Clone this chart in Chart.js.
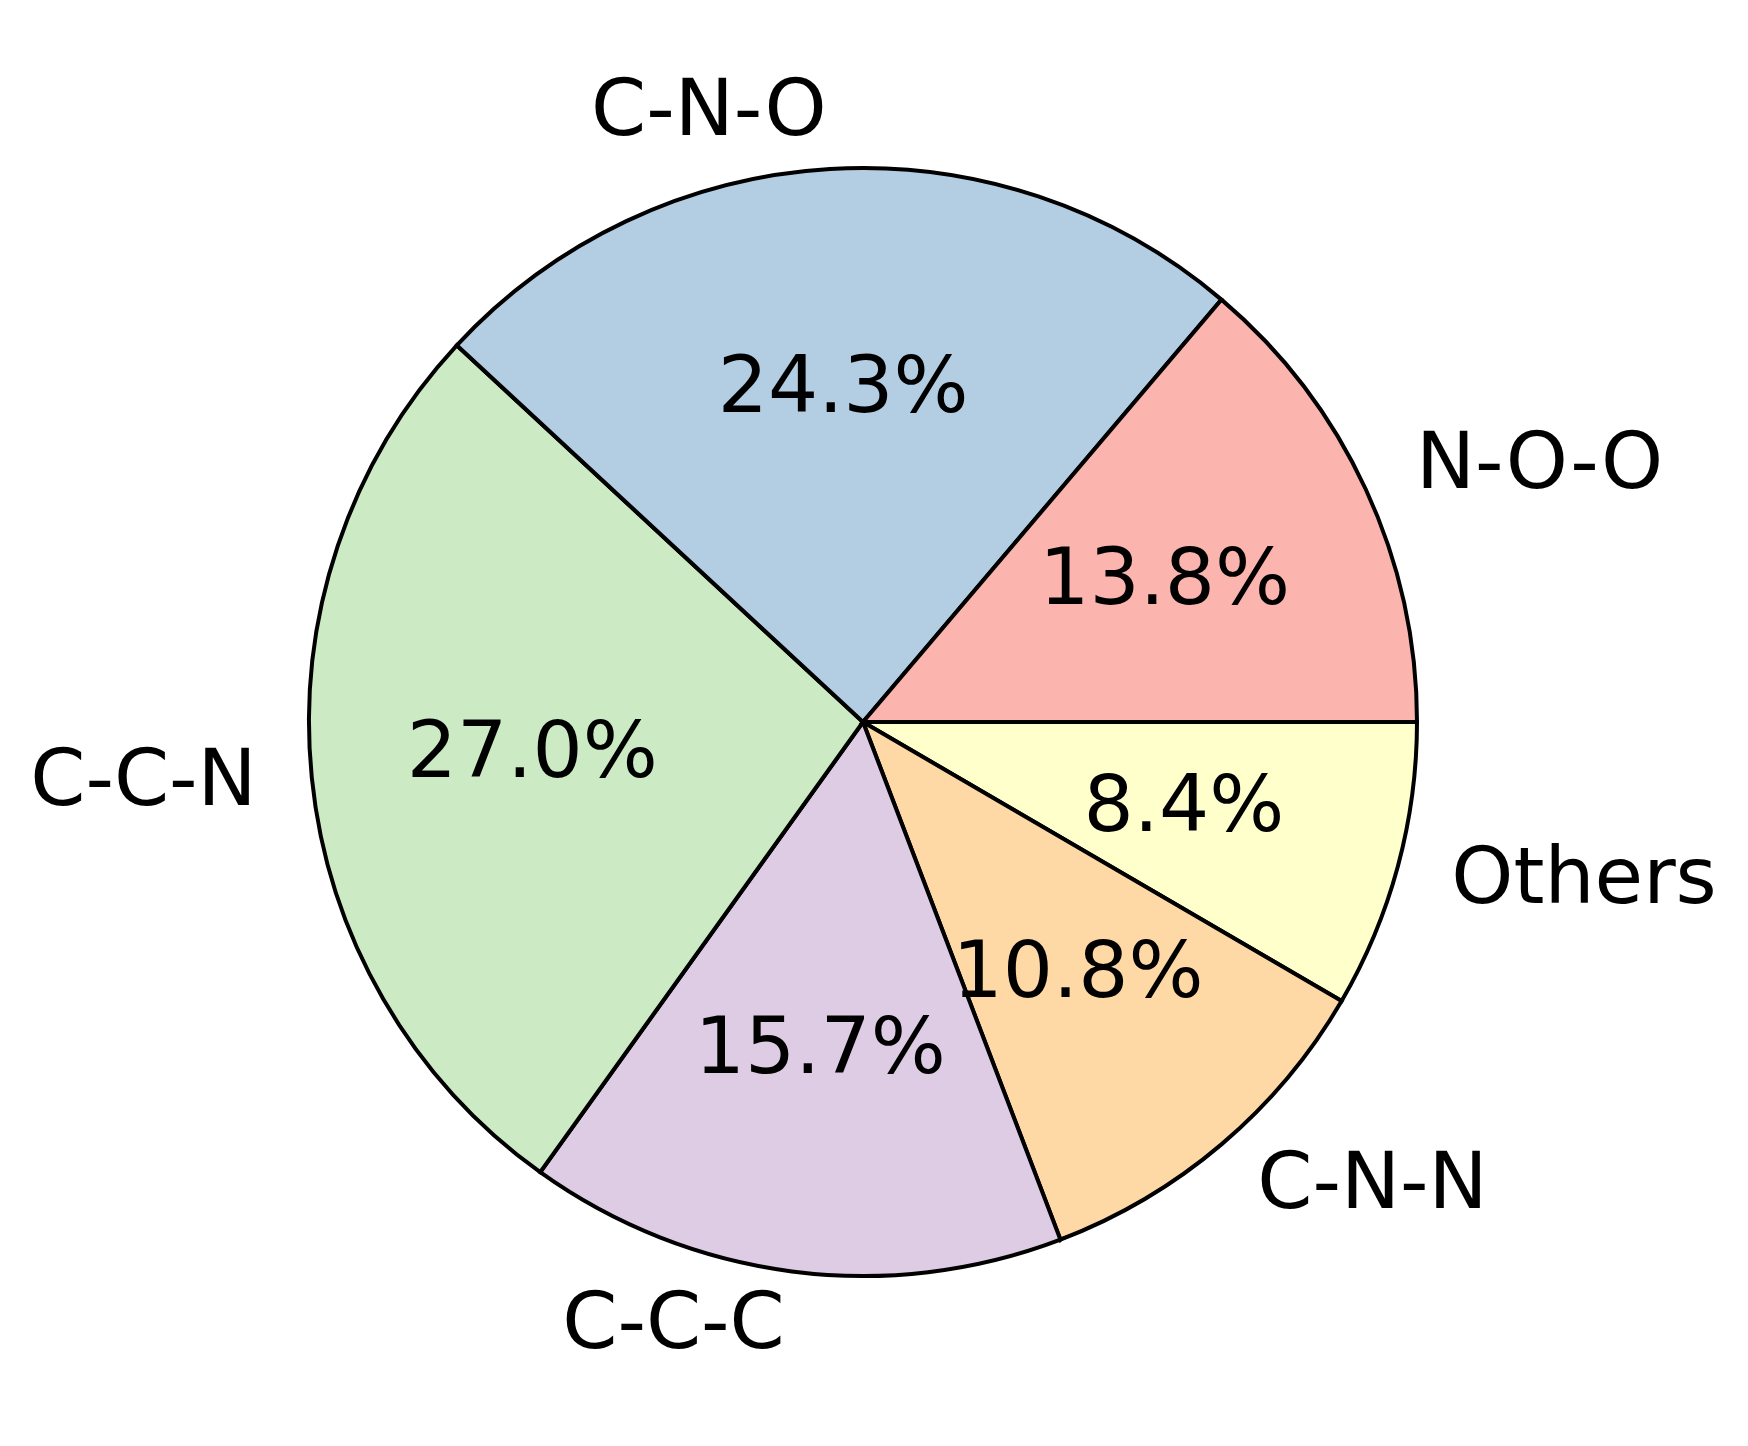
<!DOCTYPE html>
<html>
<head>
<meta charset="utf-8">
<script src="https://cdn.jsdelivr.net/npm/chart.js@4.4.1/dist/chart.umd.min.js"></script>
<style>
  html, body { margin: 0; padding: 0; background: #ffffff; }
  canvas { display: block; }
</style>
</head>
<body>
<canvas id="pieChart" width="1748" height="1446"></canvas>
<script>
// slices in matplotlib order (counter-clockwise from 3 o'clock)
const labels = ["N-O-O", "C-N-O", "C-C-N", "C-C-C", "C-N-N", "Others"];
const shares = [13.8, 24.3, 27.0, 15.7, 10.8, 8.4];
const colors = ["#fbb4ae", "#b3cde3", "#ccebc5", "#decbe4", "#fed9a6", "#ffffcc"];

// Chart.js draws clockwise, so reverse to get the same layout
let chartLabels = labels.slice().reverse();
let chartValues = shares.slice().reverse();
let chartColors = colors.slice().reverse();

const FONT_SIZE = 79;

const pieText = {
  id: "pieText",
  afterDraw(chart) {
    let ctx = chart.ctx;
    let meta = chart.getDatasetMeta(0);
    let total = chartValues.reduce((a, b) => a + b, 0);
    ctx.save();
    ctx.font = FONT_SIZE + "px 'DejaVu Sans'";
    ctx.fillStyle = "#000000";
    ctx.textBaseline = "alphabetic";
    meta.data.forEach((arc, i) => {
      let p = arc.getProps(["x", "y", "startAngle", "endAngle", "outerRadius"], true);
      let mid = (p.startAngle + p.endAngle) / 2;
      let cx = Math.cos(mid);
      let cy = Math.sin(mid);
      let shift = FONT_SIZE * 0.276;

      // outer label at 1.1 r
      let lx = p.x + 1.1 * p.outerRadius * cx;
      let ly = p.y + 1.1 * p.outerRadius * cy;
      ctx.textAlign = cx > 0 ? "left" : "right";
      ctx.fillText(chartLabels[i], lx, ly + shift);

      // percentage at 0.6 r
      let px = p.x + 0.6 * p.outerRadius * cx;
      let py = p.y + 0.6 * p.outerRadius * cy;
      ctx.textAlign = "center";
      let pct = (chartValues[i] / total * 100).toFixed(1) + "%";
      ctx.fillText(pct, px, py + shift);
    });
    ctx.restore();
  },
};

let ctx = document.getElementById("pieChart").getContext("2d");
new Chart(ctx, {
  type: "pie",
  data: {
    labels: chartLabels,
    datasets: [
      {
        data: chartValues,
        backgroundColor: chartColors,
        borderColor: "#000000",
        borderWidth: 4,
        borderJoinStyle: "miter",
        hoverOffset: 0,
      },
    ],
  },
  options: {
    responsive: false,
    animation: false,
    devicePixelRatio: 1,
    rotation: 90,
    radius: 554,
    layout: {
      padding: { left: 0, right: 22, top: 0, bottom: 2 },
    },
    plugins: {
      legend: { display: false },
      tooltip: { enabled: false },
      title: { display: false },
    },
  },
  plugins: [pieText],
});
</script>
</body>
</html>
